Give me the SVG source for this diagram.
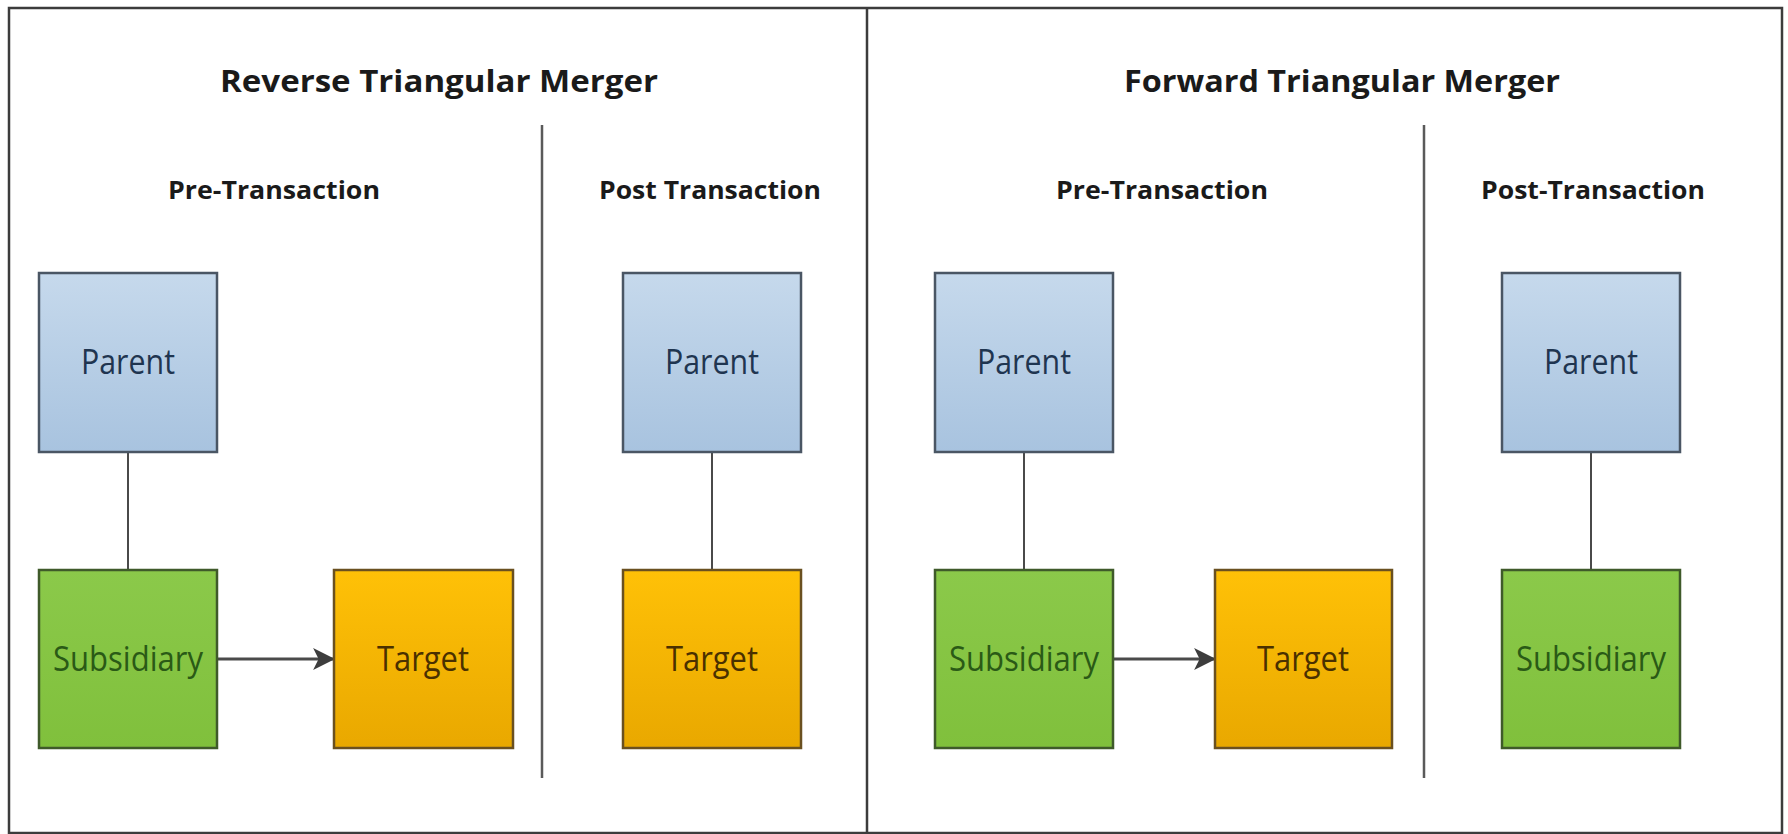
<svg xmlns="http://www.w3.org/2000/svg" width="1788" height="834" viewBox="0 0 1788 834">
  <defs>
    <linearGradient id="gBlue" x1="0" y1="0" x2="0" y2="1">
      <stop offset="0" stop-color="#c6d9ec"/>
      <stop offset="1" stop-color="#a8c3df"/>
    </linearGradient>
    <linearGradient id="gGreen" x1="0" y1="0" x2="0" y2="1">
      <stop offset="0" stop-color="#8bc94a"/>
      <stop offset="1" stop-color="#80c03c"/>
    </linearGradient>
    <linearGradient id="gOrange" x1="0" y1="0" x2="0" y2="1">
      <stop offset="0" stop-color="#ffc107"/>
      <stop offset="1" stop-color="#e9a800"/>
    </linearGradient>
    <marker id="arrowBig" viewBox="0 0 20 20" refX="19" refY="10" markerWidth="22" markerHeight="24" markerUnits="userSpaceOnUse" orient="auto">
      <path d="M0,0 L20,10 L0,20 L5,10 Z" fill="#3d3d3d"/>
    </marker>
  </defs>
  <style>
    .frame { fill: none; stroke: #3c3c3c; stroke-width: 2.5; }
    .divider { stroke: #5a5a5a; stroke-width: 2.5; }
    .title { font-family: "Open Sans", "Liberation Sans", sans-serif; font-weight: bold; font-size: 31px; fill: #1a1a1a; text-anchor: middle; }
    .sub { font-family: "Open Sans", "Liberation Sans", sans-serif; font-weight: bold; font-size: 25px; fill: #1a1a1a; text-anchor: middle; }
    .label { font-family: "Open Sans", "Liberation Sans", sans-serif; font-size: 34px; text-anchor: middle; }
    .box { stroke: #4e4e4e; stroke-width: 2.5; }
    .parent rect { fill: url(#gBlue); stroke: #4a5664; }
    .parent text { fill: #1f3550; }
    .subsidiary rect { fill: url(#gGreen); stroke: #3f5a2a; }
    .subsidiary text { fill: #2a5a16; }
    .target rect { fill: url(#gOrange); stroke: #6a5020; }
    .target text { fill: #4a3000; }
    .link { stroke: #4a4a4a; stroke-width: 2; fill: none; }
    .flow { stroke: #4a4a4a; stroke-width: 3; fill: none; }
  </style>

  <rect x="0" y="0" width="1788" height="834" fill="#ffffff"/>

  <!-- outer frame and panel separators -->
  <rect class="frame" x="9" y="8" width="1773" height="825"/>
  <line class="frame" x1="867" y1="8" x2="867" y2="834"/>
  <line class="divider" x1="542" y1="125" x2="542" y2="778"/>
  <line class="divider" x1="1424" y1="125" x2="1424" y2="778"/>

  <!-- headings -->
  <g id="headings">
    <text class="title" x="439" y="92" textLength="438" lengthAdjust="spacingAndGlyphs">Reverse Triangular Merger</text>
    <text class="title" x="1342" y="92" textLength="436" lengthAdjust="spacingAndGlyphs">Forward Triangular Merger</text>
    <text class="sub" x="274" y="199" textLength="212" lengthAdjust="spacingAndGlyphs">Pre-Transaction</text>
    <text class="sub" x="710" y="199" textLength="222" lengthAdjust="spacingAndGlyphs">Post Transaction</text>
    <text class="sub" x="1162" y="199" textLength="212" lengthAdjust="spacingAndGlyphs">Pre-Transaction</text>
    <text class="sub" x="1593" y="199" textLength="224" lengthAdjust="spacingAndGlyphs">Post-Transaction</text>
  </g>

  <!-- connectors -->
  <g id="connectors">
    <line class="link" x1="128" y1="452" x2="128" y2="570"/>
    <line class="link" x1="712" y1="452" x2="712" y2="570"/>
    <line class="link" x1="1024" y1="452" x2="1024" y2="570"/>
    <line class="link" x1="1591" y1="452" x2="1591" y2="570"/>
    <line class="flow" x1="217" y1="659" x2="334" y2="659" marker-end="url(#arrowBig)"/>
    <line class="flow" x1="1113" y1="659" x2="1215" y2="659" marker-end="url(#arrowBig)"/>
  </g>

  <!-- Reverse triangular merger: pre-transaction -->
  <g id="rtm-pre-parent" class="parent">
    <rect class="box" x="39" y="273" width="178" height="179"/>
    <text class="label" x="128" y="374" textLength="94" lengthAdjust="spacingAndGlyphs">Parent</text>
  </g>
  <g id="rtm-pre-subsidiary" class="subsidiary">
    <rect class="box" x="39" y="570" width="178" height="178"/>
    <text class="label" x="128" y="671" textLength="150" lengthAdjust="spacingAndGlyphs">Subsidiary</text>
  </g>
  <g id="rtm-pre-target" class="target">
    <rect class="box" x="334" y="570" width="179" height="178"/>
    <text class="label" x="423" y="671" textLength="92" lengthAdjust="spacingAndGlyphs">Target</text>
  </g>

  <!-- Reverse triangular merger: post-transaction -->
  <g id="rtm-post-parent" class="parent">
    <rect class="box" x="623" y="273" width="178" height="179"/>
    <text class="label" x="712" y="374" textLength="94" lengthAdjust="spacingAndGlyphs">Parent</text>
  </g>
  <g id="rtm-post-target" class="target">
    <rect class="box" x="623" y="570" width="178" height="178"/>
    <text class="label" x="712" y="671" textLength="92" lengthAdjust="spacingAndGlyphs">Target</text>
  </g>

  <!-- Forward triangular merger: pre-transaction -->
  <g id="ftm-pre-parent" class="parent">
    <rect class="box" x="935" y="273" width="178" height="179"/>
    <text class="label" x="1024" y="374" textLength="94" lengthAdjust="spacingAndGlyphs">Parent</text>
  </g>
  <g id="ftm-pre-subsidiary" class="subsidiary">
    <rect class="box" x="935" y="570" width="178" height="178"/>
    <text class="label" x="1024" y="671" textLength="150" lengthAdjust="spacingAndGlyphs">Subsidiary</text>
  </g>
  <g id="ftm-pre-target" class="target">
    <rect class="box" x="1215" y="570" width="177" height="178"/>
    <text class="label" x="1303" y="671" textLength="92" lengthAdjust="spacingAndGlyphs">Target</text>
  </g>

  <!-- Forward triangular merger: post-transaction -->
  <g id="ftm-post-parent" class="parent">
    <rect class="box" x="1502" y="273" width="178" height="179"/>
    <text class="label" x="1591" y="374" textLength="94" lengthAdjust="spacingAndGlyphs">Parent</text>
  </g>
  <g id="ftm-post-subsidiary" class="subsidiary">
    <rect class="box" x="1502" y="570" width="178" height="178"/>
    <text class="label" x="1591" y="671" textLength="150" lengthAdjust="spacingAndGlyphs">Subsidiary</text>
  </g>
</svg>
